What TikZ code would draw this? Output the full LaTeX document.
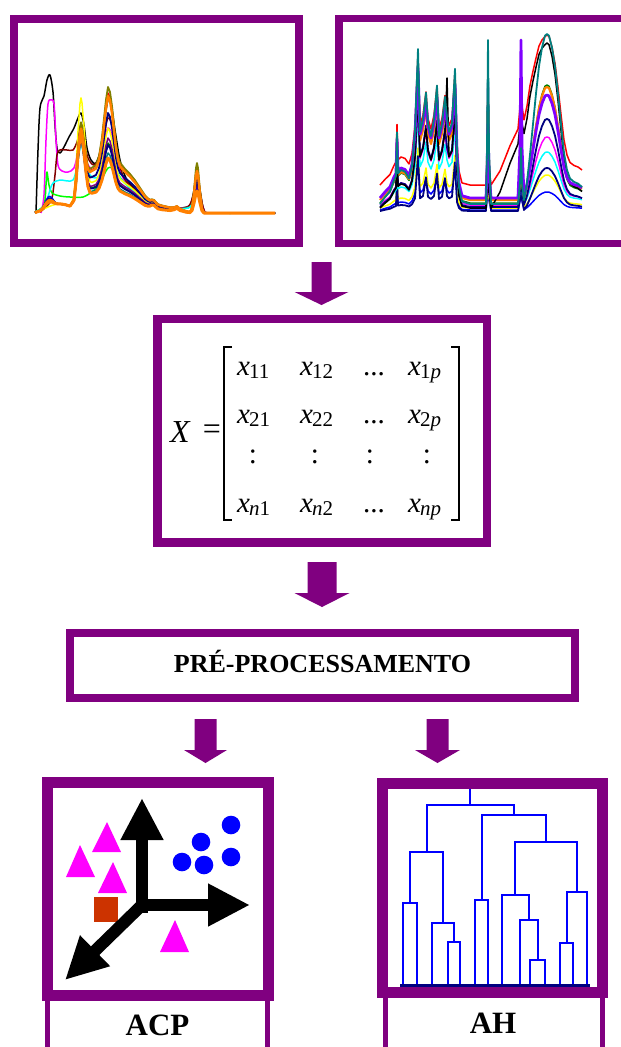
\documentclass[tikz,border=0pt]{standalone}
\usepackage{fontspec}
\setmainfont{Liberation Serif}
\usetikzlibrary{arrows.meta}
\definecolor{fpurple}{RGB}{128,0,128}
\definecolor{sOrange}{RGB}{255,128,0}
\definecolor{sViolet}{RGB}{128,0,255}
\definecolor{sNavy}{RGB}{0,0,128}
\definecolor{sTeal}{RGB}{0,128,128}
\definecolor{sGreen}{RGB}{0,128,0}
\definecolor{sOlive}{RGB}{128,128,0}
\definecolor{sMaroon}{RGB}{128,0,0}
\definecolor{sLime}{RGB}{0,255,0}
\definecolor{sRedsq}{RGB}{204,51,0}
\definecolor{sMagenta}{RGB}{255,0,255}
\definecolor{sCyan}{RGB}{0,255,255}
\definecolor{sYellow}{RGB}{255,255,0}
\definecolor{sBlue}{RGB}{0,0,255}
\definecolor{sRed}{RGB}{255,0,0}
\tikzset{
  pbox/.style={draw=fpurple, fill=white, inner sep=0pt, outer sep=0pt},
  blockarrow/.style={fill=fpurple},
  labline/.style={draw=fpurple, line width=5pt},
  labtext/.style={font=\fontsize{31}{31}\selectfont\bfseries, text=black},
  mtxt/.style={font=\fontsize{29}{29}\selectfont, inner sep=0pt, anchor=base west},
  mcolon/.style={font=\fontsize{29}{29}\selectfont, inner sep=0pt},
  axisarrow/.style={line width=12pt, -{Triangle[length=42pt,width=40pt]}},
  dend/.style={draw=sBlue, line width=2pt},
  spec/.style={line width=1.5pt, line join=round},
}
\newcommand\mxe[1]{\textit{x}\kern-1pt\raisebox{-3pt}{\fontsize{21}{21}\selectfont #1}}
% left spectrum table: x / peak49 / peak81 / main / peak197 / fixed
\newcommand\ltab{38/0/0/0/0/1.5, 40/0/0/0/0/2.2, 42/.1/0/0/0/3.2, 44/.35/0/0/0/4.1, 46/.75/0/0/0/5.1, 48/.98/0/0/0/6, 49/1/0/0/0/6.4, 50/.98/0/0/0/6.8, 52/.75/0/0/0/7.6, 54/.4/0/0/0/8.1, 56/.15/0/0/0/8.6, 58/.03/0/0/0/8.9, 61/0/0/0/0/9, 65/0/0/0/0/8.4, 70/0/0/0/0/6.9, 74/0/.1/0/0/5.1, 76/0/.35/.01/0/4.1, 78/0/.7/.02/0/3.2, 80/0/.95/.03/0/2.2, 81/0/1/.04/0/1.7, 82/0/.95/.05/0/1.4, 84/0/.7/.1/0/.8, 86/0/.4/.18/0/.3, 88/0/.15/.27/0/0, 90/0/.03/.33/0/0, 92/0/0/.36/0/0, 96/0/0/.38/0/0, 99/0/0/.45/0/0, 102/0/0/.6/0/0, 104/0/0/.75/0/0, 106/0/0/.9/0/0, 108/0/0/1/0/0, 110/0/0/.96/0/0, 112/0/0/.85/0/0, 114/0/0/.7/0/0, 116/0/0/.55/0/0, 118/0/0/.45/0/0, 120/0/0/.4/0/0, 125/0/0/.35/0/0, 130/0/0/.31/0/0, 135/0/0/.26/0/0, 140/0/0/.2/0/0, 145/0/0/.14/0/0, 148/0/0/.11/0/.8, 150/0/0/.09/0/2, 152/0/0/.08/0/3.6, 154/0/0/.075/0/3.6, 156/0/0/.07/0/2, 158/0/0/.065/0/.6, 162/0/0/.06/0/0, 170/0/0/.045/0/0, 174/0/0/.037/0/1.2, 177/0/0/.031/0/3, 180/0/0/.024/0/1.2, 186/0/0/.015/0/0, 190/0/0/.008/0/0, 192/0/0/.004/.1/0, 194/0/0/0/.45/0, 196/0/0/0/.9/0, 197/0/0/0/1/0, 198/0/0/0/.9/0, 200/0/0/0/.45/0, 202/0/0/0/.1/0, 204/0/0/0/0/0, 275/0/0/0/0/0}
% right spectrum table: x / cluster / spikes / broad / k1 (447) / k2 (flank) / k3 (488) / k4 (521)
\newcommand\rtab{385/.08/0/0/0/0/0/0, 390/.15/0/0/0/0/0/0, 394/.28/0/0/0/0/0/0, 396/.33/0/0/0/0/0/0, 397/.35/.6/0/0/0/0/0, 398/.36/0/0/0/0/0/0, 401/.4/0/0/0/0/0/0, 405/.38/0/0/0/0/0/0, 409/.3/0/0/0/0/0/0, 412/.45/0/0/0/0/0/0, 415/.85/0/0/0/0/0/0, 418/1/1/0/0/0/0/0, 420/.85/0/0/0/0/0/0, 423/1/0/0/0/0/0/0, 426/.9/.5/0/0/0/0/0, 428/.95/0/0/0/0/0/0, 431/.8/0/0/0/0/0/0, 434/1/0/0/0/0/0/0, 437/.9/.6/0/0/0/0/0, 439/.8/0/0/0/0/0/0, 442/.95/0/0/0/0/0/0, 445/.85/.5/0/0/0/0/0, 447/1/0/0/1/0/0/0, 449/.85/0/0/0/0/0/0, 452/.95/0/0/0/0/0/0, 455/.85/.9/0/0/0/0/0, 457/.6/0/0/0/0/0/0, 459/.2/0/0/0/0/0/0, 462/.03/0/0/0/0/0/0, 470/0/0/0/0/0/0/0, 480/0/0/0/0/0/0/0, 486/0/0/0/0/0/0/0, 487/0/.3/0/0/0/.3/0, 488/0/.8/0/0/0/1/0, 489/0/.3/0/0/0/.3/0, 491/0/0/0/0/0/0/0, 500/0/0/0/0/.2/0/0, 510/0/0/0/0/.56/0/0, 518/0/0/0/0/.8/0/0, 520/0/.3/0/0/.85/0/.3, 521/0/.8/0/0/.87/0/1, 522/0/.3/0/0/.87/0/.3, 524/0/0/.024/0/.88/0/0, 527/0/0/.13/0/.85/0/0, 530/0/0/.29/0/.8/0/0, 533/0/0/.47/0/.62/0/0, 536/0/0/.65/0/.42/0/0, 539/0/0/.81/0/.25/0/0, 542/0/0/.92/0/.1/0/0, 545/0/0/.99/0/0/0/0, 547/0/0/1/0/0/0/0, 549/0/0/.99/0/0/0/0, 552/0/0/.92/0/0/0/0, 555/0/0/.81/0/0/0/0, 558/0/0/.65/0/0/0/0, 561/0/0/.47/0/0/0/0, 564/0/0/.3/0/0/0/0, 567/0/0/.2/0/0/0/0, 570/0/0/.15/0/0/0/0, 574/0/0/.13/0/0/0/0, 578/0/0/.12/0/0/0/0, 582/0/0/.1/0/0/0/0}
\newcommand\lgrp[5]{\draw[spec,#1] (35,{213-0.4}) foreach \xx/\pA/\pB/\pM/\pD/\pF in \ltab { -- (\xx,{213-#2*\pA-#3*\pB-#4*\pM-#5*\pD-\pF}) };}
% style, broad, cluster, spike, lift, k1, k2, k3, k4
\newcommand\rgrp[9]{\draw[spec,#1] (380,{213-#5}) foreach \xx/\pC/\pS/\pW/\pE/\pG/\pH/\pK in \rtab { -- (\xx,{213-#5-#3*\pC-#4*\pS-#2*\pW-#6*\pE-#7*\pG-#8*\pH-#9*\pK}) };}
\newcommand\blockarr[7]{% name, cx, ytop, ybase, ytip, shaft half, head half
  \fill[blockarrow] (#2-#6,#3) -- (#2+#6,#3) -- (#2+#6,#4) -- (#2+#7,#4) -- (#2,#5) -- (#2-#7,#4) -- (#2-#6,#4) -- cycle;
  \coordinate (#1) at (#2,#5);}
\begin{document}
\begin{tikzpicture}[x=1pt,y=-1pt]
\useasboundingbox (0,0) rectangle (621,1047);
\fill[white] (0,0) rectangle (621,1047);
% ---------- boxes ----------
\node[pbox, line width=8pt, minimum width=284.5pt, minimum height=224pt] (specL) at (156.25,131) {};
\node[pbox, line width=7.5pt, minimum width=321pt, minimum height=225pt] (specR) at (499.5,131) {};
\node[pbox, line width=8.3pt, minimum width=329.2pt, minimum height=223.5pt] (matbox) at (322.1,430.75) {};
\node[pbox, line width=8.5pt, minimum width=505pt, minimum height=65pt] (prep) at (322.5,665.5) {};
\node[font=\fontsize{26}{26}\selectfont\bfseries, text=black, inner sep=0pt] (preptxt) at (322.5,661) {PRÉ-PROCESSAMENTO};
\node[pbox, line width=11pt, minimum width=221pt, minimum height=213pt] (acp) at (157.75,889.3) {};
\node[pbox, line width=11pt, minimum width=219.2pt, minimum height=208.7pt] (ah) at (492.4,887.7) {};
% label boxes
\draw[labline] (acp.south west) ++(0.3,5) -- ++(0,60);
\draw[labline] (acp.south east) ++(-0.8,5) -- ++(0,60);
\draw[labline] (ah.south west) ++(3,5) -- ++(0,60);
\draw[labline] (ah.south east) ++(0.5,5) -- ++(0,60);
\node[labtext] (acplab) at (157.5,1025) {ACP};
\node[labtext] (ahlab) at (493,1023) {AH};
% ---------- block arrows ----------
\blockarr{a1}{321.5}{262}{292}{305}{10}{27}
\blockarr{a2}{322}{562}{593}{607}{14.5}{27.5}
\blockarr{a3}{205.5}{719}{750}{763}{11}{21.5}
\blockarr{a4}{437.5}{719}{750}{763}{11}{22.5}
% ---------- left spectra ----------
\draw[spec,black] plot[smooth] coordinates {(36,213) (38,150) (40,108) (44,96) (47,80) (50,75) (53,92) (55,125) (57,148) (60,153) (64,147) (69,137) (74,128) (78,118) (81,113) (84,125) (87,148) (91,160) (96,163) (101,148) (105,118) (108,100) (111,104) (115,130) (120,160) (126,178) (134,188) (143,196) (152,203) (165,207) (180,208) (190,205) (194,190) (197,172) (200,190) (204,210) (212,213) (275,213)};
\draw[spec,sMagenta] plot[smooth] coordinates {(41,213) (44,195) (46,140) (48,104) (51,100) (54,104) (56,140) (58,165) (62,171) (68,172) (74,168) (78,152) (81,140) (84,150) (88,165) (94,170) (100,160) (105,138) (108,128) (112,135) (117,160) (124,180) (134,190) (145,199) (155,205) (170,208) (188,207) (194,195) (197,185) (200,195) (204,210) (212,213) (275,213)};
\draw[spec,sMaroon] plot[smooth] coordinates {(40,212) (47,206) (52,198) (55,175) (57,155) (60,150) (67,150) (73,150) (77,142) (80,132) (84,142) (88,158) (94,165) (100,155) (105,130) (108,118) (112,125) (117,155) (124,178) (134,189) (145,199) (155,205) (170,208) (188,207) (194,192) (197,178) (200,192) (204,210) (212,213) (275,213)};
\draw[spec,sLime] plot[smooth] coordinates {(35,212) (44,205) (46,185) (47,172) (49,185) (52,193) (60,196) (70,197) (83,197) (93,191) (100,183) (108,168) (115,170) (122,180) (130,188) (140,196) (150,203) (170,208) (190,207) (197,190) (202,209) (210,213) (275,213)};
\draw[spec,sCyan] plot[smooth] coordinates {(35,212) (45,205) (50,190) (53,183) (60,180) (73,180) (78,160) (81,145) (85,160) (90,175) (96,178) (102,172) (108,160) (114,165) (120,178) (130,188) (140,196) (150,203) (170,208) (190,207) (197,188) (202,209) (210,213) (275,213)};
\lgrp{sYellow}{0}{110}{85}{30}
\lgrp{sGreen}{8}{75}{70}{30}
\lgrp{sTeal}{5}{72}{60}{26}
\lgrp{sBlue}{10}{70}{55}{25}
\lgrp{fpurple}{6}{74}{75}{28}
\lgrp{sNavy,line width=1.8pt}{8}{80}{100}{38}
\lgrp{sNavy,line width=1.8pt}{6}{70}{68}{32}
\lgrp{sRed}{5}{82}{120}{45}
\lgrp{sOlive,line width=1.8pt}{6}{84}{126}{50}
\lgrp{sOrange,line width=2.4pt}{4}{78}{117}{42}
\lgrp{sOrange,line width=3pt}{6}{76}{55}{22}
% ---------- right spectra ----------
\rgrp{sBlue}{18}{20}{30}{3}{0}{0}{0}{0}
\rgrp{sYellow}{33}{25}{35}{5}{0}{0}{0}{0}
\rgrp{sNavy,line width=1.8pt}{43}{15}{40}{2}{0}{0}{100}{0}
\rgrp{sCyan}{53}{45}{45}{8}{0}{0}{0}{0}
\rgrp{sMagenta}{68}{55}{50}{8}{0}{0}{0}{0}
\rgrp{sNavy,line width=1.8pt}{88}{60}{55}{6}{0}{0}{90}{0}
\rgrp{sGreen}{118}{75}{60}{10}{0}{0}{20}{0}
\rgrp{sOrange,line width=2.2pt}{113}{70}{60}{13}{0}{0}{50}{0}
\rgrp{sRed}{150}{70}{60}{28}{0}{70}{0}{0}
\rgrp{black}{165}{60}{50}{5}{70}{80}{0}{0}
\rgrp{sViolet,line width=2.8pt}{103}{75}{55}{15}{0}{0}{30}{114}
\rgrp{sTeal,line width=1.8pt}{170}{85}{70}{9}{0}{0}{108}{0}
% ---------- matrix ----------
\node[font=\fontsize{32}{32}\selectfont\itshape, inner sep=0pt, anchor=base west] (bigX) at (170,442) {X};
\node[font=\fontsize{32}{32}\selectfont, inner sep=0pt] (eq) at (212,432) {=};
\draw[line width=1.3pt] (232,347) -- (224,347) -- (224,520) -- (232,520);
\draw[line width=1.3pt] (451,347) -- (459,347) -- (459,520) -- (451,520);
\node[mtxt] (m11) at (237,375) {\mxe{11}};
\node[mtxt] (m12) at (300,375) {\mxe{12}};
\node[mtxt] (m13) at (363,375) {...};
\node[mtxt] (m14) at (408,375) {\mxe{1\textit{p}}};
\node[mtxt] (m21) at (237,423) {\mxe{21}};
\node[mtxt] (m22) at (300,423) {\mxe{22}};
\node[mtxt] (m23) at (363,423) {...};
\node[mtxt] (m24) at (408,423) {\mxe{2\textit{p}}};
\node[mcolon] (m31) at (253,457) {:};
\node[mcolon] (m32) at (315,457) {:};
\node[mcolon] (m33) at (370,457) {:};
\node[mcolon] (m34) at (427,457) {:};
\node[mtxt] (m41) at (237,512) {\mxe{\textit{n}1}};
\node[mtxt] (m42) at (300,512) {\mxe{\textit{n}2}};
\node[mtxt] (m43) at (363,512) {...};
\node[mtxt] (m44) at (408,512) {\mxe{\textit{np}}};
% ---------- ACP plot ----------
\fill[sMagenta] (80,845) -- (95,877) -- (66,877) -- cycle;
\fill[sMagenta] (107,822) -- (121,852) -- (92,852) -- cycle;
\fill[sMagenta] (113,862) -- (127,893) -- (98,893) -- cycle;
\fill[sMagenta] (175,920) -- (189,952) -- (160,952) -- cycle;
\fill[sRedsq] (94,897) rectangle (118,922);
\foreach \cx/\cy in {182/862, 201/842, 204/865, 231/825, 231/857} \fill[sBlue] (\cx,\cy) circle (9.3);
\coordinate (o) at (142,905);
\coordinate (ob) at (142,913);
\coordinate (ol) at (136,905);
\coordinate (tv) at (142,798);
\coordinate (th) at (250,905);
\coordinate (td) at (65,980);
\draw[axisarrow] (ob) -- (tv);
\draw[axisarrow] (ol) -- (th);
\draw[axisarrow] (o) -- (td);
% ---------- dendrogram ----------
\draw[dend] (403.3,985) |- (416.7,903.3) -- (416.7,985);
\draw[dend] (448.3,985) |- (460,941.7) -- (460,985);
\draw[dend] (431.7,985) |- (454.2,923.3) -- (454.2,941.7);
\draw[dend] (410,903.3) |- (443,851.7) -- (443,923.3);
\draw[dend] (475,985) |- (488.3,900) -- (488.3,985);
\draw[dend] (530,985) |- (545,960) -- (545,985);
\draw[dend] (520,985) |- (537.5,920) -- (537.5,960);
\draw[dend] (501.7,985) |- (528.7,895) -- (528.7,920);
\draw[dend] (560,985) |- (573.3,942.7) -- (573.3,985);
\draw[dend] (566.7,942.7) |- (586.7,891.7) -- (586.7,985);
\draw[dend] (515,895) |- (576.7,841.7) -- (576.7,891.7);
\draw[dend] (481.7,900) |- (546,815) -- (546,841.7);
\draw[dend] (426.5,851.7) |- (513.8,805) -- (513.8,815);
\draw[dend] (470.2,805) -- (470.2,789);
\draw[sNavy, line width=3pt] (400,985) -- (590,985);
\end{tikzpicture}
\end{document}
